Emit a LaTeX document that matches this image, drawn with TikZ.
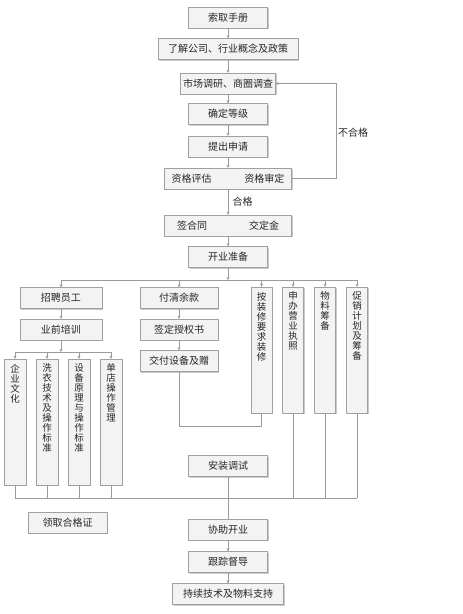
\documentclass[tikz,border=0pt]{standalone}
\usepackage{fontspec}
\newfontfamily\cjk{Noto Sans CJK SC}
\usetikzlibrary{arrows.meta,shadows}

\definecolor{boxline}{HTML}{A0A0A0}
\definecolor{boxfill}{HTML}{F3F3F3}
\definecolor{linegray}{HTML}{9A9A9A}

\tikzset{
  box/.style={draw=boxline, fill=boxfill, minimum height=21pt, inner sep=0pt,
    font=\cjk\fontsize{10}{12}\selectfont, text=black!85,
    drop shadow={shadow xshift=1.2pt, shadow yshift=-1.2pt, fill=black!35, opacity=0.6}},
  vbox/.style={box, minimum height=126pt},
  vtext/.style={anchor=north, yshift=-5pt, align=center, inner sep=0pt,
    font=\cjk\fontsize{9.5}{10}\selectfont, text=black!85},
  wire/.style={draw=linegray, line width=0.8pt},
  arr/.style={wire, -{Stealth[length=3pt,width=3pt]}},
  tag/.style={font=\cjk\fontsize{10}{12}\selectfont, text=black!85}
}

\begin{document}
\begin{tikzpicture}[x=1pt,y=-1pt]
  \useasboundingbox (0,0) rectangle (463,614);

  % main column
  \node[box, minimum width=79pt]  (soqu)     at (228,17.5)  {索取手册};
  \node[box, minimum width=140pt] (liaojie)  at (228,49)    {了解公司、行业概念及政策};
  \node[box, minimum width=95pt]  (shichang) at (228,83.5)  {市场调研、商圈调查};
  \node[box, minimum width=79pt]  (queding)  at (228,114)   {确定等级};
  \node[box, minimum width=79pt]  (tichu)    at (228,146.5) {提出申请};
  \node[box, minimum width=127pt] (zige)     at (228,178.5) {资格评估\hspace{33pt}资格审定};
  \node[box, minimum width=127pt] (qianhe)   at (228,225.5) {签合同\hspace{42pt}交定金};
  \node[box, minimum width=79pt]  (kaiye)    at (228,257)   {开业准备};

  \foreach \a/\b in {soqu/liaojie, liaojie/shichang, shichang/queding,
                     queding/tichu, tichu/zige}
    \draw[arr] (\a) -- (\b);

  % feedback
  \draw[arr] (zige.east) -- ++(45,0) |- (shichang.east);
  \node[tag] (buhege) at (353,133) {不合格};
  \draw[arr] (zige) -- node[tag, right, xshift=1pt] (hege) {合格} (qianhe);
  \draw[arr] (qianhe) -- (kaiye);

  % left branch
  \node[box, minimum width=82pt] (zhaopin) at (61,298)   {招聘员工};
  \node[box, minimum width=82pt] (peixun)  at (61,329.5) {业前培训};
  \node[vbox, minimum width=22pt, label={[vtext]north:企\\业\\文\\化}] (wenhua) at (15,422) {};
  \node[vbox, minimum width=22pt, label={[vtext]north:洗\\衣\\技\\术\\及\\操\\作\\标\\准}] (xiyi) at (47,422) {};
  \node[vbox, minimum width=22pt, label={[vtext]north:设\\备\\原\\理\\与\\操\\作\\标\\准}] (shebei) at (79,422) {};
  \node[vbox, minimum width=22pt, label={[vtext]north:单\\店\\操\\作\\管\\理}] (guanli) at (111,422) {};

  % middle branch
  \node[box, minimum width=78pt] (fuqing)   at (179,298)   {付清余款};
  \node[box, minimum width=78pt] (qianding) at (179,329.5) {签定授权书};
  \node[box, minimum width=78pt] (jiaofu)   at (179,361)   {交付设备及赠};

  % right branch
  \node[vbox, minimum width=21pt, label={[vtext]north:按\\装\\修\\要\\求\\装\\修}] (zhuangxiu) at (261.5,350) {};
  \node[vbox, minimum width=21pt, label={[vtext]north:申\\办\\营\\业\\执\\照}] (zhizhao) at (293,350) {};
  \node[vbox, minimum width=21pt, label={[vtext]north:物\\料\\筹\\备}] (wuliao) at (325,350) {};
  \node[vbox, minimum width=21pt, label={[vtext]north:促\\销\\计\\划\\及\\筹\\备}] (cuxiao) at (357,350) {};

  % bus below kaiye
  \coordinate (busT) at (228,280);
  \draw[arr] (kaiye) -- (busT);
  \draw[wire] (zhaopin.north |- busT) -- (cuxiao.north |- busT);
  \foreach \n in {zhaopin, fuqing, zhuangxiu, zhizhao, wuliao, cuxiao}
    \draw[arr] (\n.north |- busT) -- (\n.north);

  \draw[arr] (zhaopin) -- (peixun);
  \coordinate (busL) at (61,352);
  \draw[arr] (peixun) -- (busL);
  \draw[wire] (wenhua.north |- busL) -- (guanli.north |- busL);
  \foreach \n in {wenhua, xiyi, shebei, guanli}
    \draw[arr] (\n.north |- busL) -- (\n.north);

  \draw[arr] (fuqing) -- (qianding);
  \draw[arr] (qianding) -- (jiaofu);
  \draw[wire] (jiaofu.south) -- ++(0,55) -| (zhuangxiu.south);

  % lower part
  \node[box, minimum width=79pt]  (anzhuang) at (228,466)   {安装调试};
  \node[box, minimum width=79pt]  (lingqu)   at (67.5,522.5) {领取合格证};
  \node[box, minimum width=79pt]  (xiezhu)   at (228,529.5) {协助开业};
  \node[box, minimum width=79pt]  (genzong)  at (228,562)   {跟踪督导};
  \node[box, minimum width=111pt] (chixu)    at (228,594)   {持续技术及物料支持};

  \coordinate (busB) at (228,498);
  \draw[wire] (wenhua.south |- busB) -- (cuxiao.south |- busB);
  \foreach \n in {wenhua, xiyi, shebei, guanli, zhizhao, wuliao, cuxiao}
    \draw[wire] (\n.south) -- (\n.south |- busB);
  \draw[wire] (anzhuang) -- (xiezhu);
  \draw[arr] (xiezhu) -- (genzong);
  \draw[arr] (genzong) -- (chixu);
\end{tikzpicture}
\end{document}
